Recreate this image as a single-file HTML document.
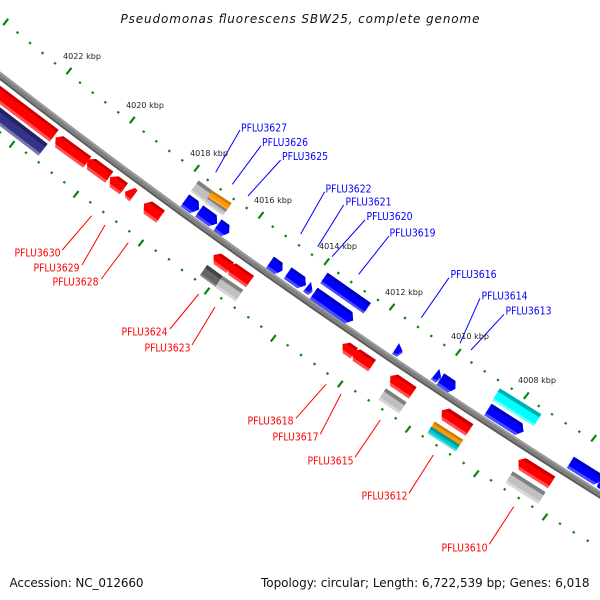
<!DOCTYPE html>
<html><head><meta charset="utf-8"><style>
html,body{margin:0;padding:0;background:#fff}
svg{display:block}
text{font-family:"DejaVu Sans","Liberation Sans",sans-serif}
.k{font-size:8px;fill:#222}
.pr{font-size:11px;fill:#f00}
.pb{font-size:11px;fill:#00f}
.l,.m,.d{stroke-width:.8}
.r .l{fill:#ff5050;stroke:#ff5050}.r .m{fill:#f00;stroke:#f00}.r .d{fill:#cc0000;stroke:#cc0000}
.b .l{fill:#4a4aff;stroke:#4a4aff}.b .m{fill:#00f;stroke:#00f}.b .d{fill:#0000c0;stroke:#0000c0}
.g .l{fill:#d8d8d8;stroke:#d8d8d8}.g .m{fill:#c0c0c0;stroke:#c0c0c0}.g .d{fill:#808080;stroke:#808080}
.s .l{fill:#8a8a8a;stroke:#8a8a8a}.s .m{fill:#666;stroke:#666}.s .d{fill:#444;stroke:#444}
.n .l{fill:#7777aa;stroke:#7777aa}.n .m{fill:#333388;stroke:#333388}.n .d{fill:#222266;stroke:#222266}
.o .l{fill:#ffb040;stroke:#ffb040}.o .m{fill:#ff9900;stroke:#ff9900}.o .d{fill:#c87a10;stroke:#c87a10}
.t .l{fill:#55dddd;stroke:#55dddd}.t .m{fill:#00c8c8;stroke:#00c8c8}.t .d{fill:#009a9a;stroke:#009a9a}
.c .l{fill:#66ffff;stroke:#66ffff}.c .m{fill:#00ffff;stroke:#00ffff}.c .d{fill:#00b0b0;stroke:#00b0b0}
</style></head><body>
<svg xmlns="http://www.w3.org/2000/svg" width="600" height="600" viewBox="0 0 600 600">
<rect width="600" height="600" fill="#fff"/>

<!-- tick marks -->
<path fill="none" stroke="#0a860a" stroke-width="2.2" d="M3.2 25.2l5-6.4M66.5 74.2l5-6.4M129.8 123.2l5-6.4M194.2 171.5l5-6.4M258.5 218.5l5-6.4M324.2 264.9l5-6.4M389.5 310.2l5-6.4M455.8 355.5l5-6.4M523.8 398.9l5-6.4M591.2 441.5l5-6.4M9.5 147.5l5-6.4M73.5 197.5l5-6.4M138.5 246.2l5-6.4M204.5 294.2l5-6.4M270.8 341.5l5-6.4M337.8 387.2l5-6.4M405.5 432.5l5-6.4M473.8 476.9l5-6.4M542.5 520.2l5-6.4"/>
<!-- dots -->
<path fill="none" stroke="#0a860a" stroke-width="2.3" d="M16.8 33.4l1.4-1.8M29.3 43.9l1.4-1.8M41.8 53.9l1.4-1.8M54.3 64.2l1.4-1.8M79.3 83.6l1.4-1.8M92 93.6l1.4-1.8M104.6 103.2l1.4-1.8M117.6 113.2l1.4-1.8M143 132.6l1.4-1.8M155.6 142.2l1.4-1.8M168.6 151.9l1.4-1.8M181.6 161.2l1.4-1.8M207 180.9l1.4-1.8M220 190.2l1.4-1.8M233 199.9l1.4-1.8M246 208.9l1.4-1.8M272 227.6l1.4-1.8M285 236.9l1.4-1.8M298.3 246.2l1.4-1.8M311.3 255.6l1.4-1.8M337.6 273.9l1.4-1.8M350.6 282.9l1.4-1.8M364 292.2l1.4-1.8M377.3 300.9l1.4-1.8M404.3 318.9l1.4-1.8M417.3 327.9l1.4-1.8M430.6 336.9l1.4-1.8M443.6 345.9l1.4-1.8M470.8 363.4l1.4-1.8M484 372.2l1.4-1.8M497.3 380.9l1.4-1.8M511 389.6l1.4-1.8M538 406.9l1.4-1.8M551.3 415.2l1.4-1.8M565 424.2l1.4-1.8M578.6 432.6l1.4-1.8M-.7 133.2l1.4-1.8M25.3 153.6l1.4-1.8M38 163.2l1.4-1.8M51 173.6l1.4-1.8M63.6 183.2l1.4-1.8M89.6 203.2l1.4-1.8M102.6 212.9l1.4-1.8M115.6 222.6l1.4-1.8M128.6 232.2l1.4-1.8M155 251.6l1.4-1.8M168.3 260.2l1.4-1.8M181.3 270.9l1.4-1.8M194.3 280.2l1.4-1.8M220.6 299.2l1.4-1.8M234 308.6l1.4-1.8M247.6 318.2l1.4-1.8M260.6 327.6l1.4-1.8M287 346.2l1.4-1.8M300.3 355.9l1.4-1.8M313.8 364.9l1.4-1.8M326.8 374.4l1.4-1.8M354.6 392.2l1.4-1.8M368 401.2l1.4-1.8M381.6 410.2l1.4-1.8M395 419.2l1.4-1.8M422 437.2l1.4-1.8M435.8 446.2l1.4-1.8M449.3 455.2l1.4-1.8M463 463.9l1.4-1.8M490.3 481.2l1.4-1.8M504 490.2l1.4-1.8M518 498.9l1.4-1.8M531.6 507.6l1.4-1.8M559.3 524.6l1.4-1.8M573 533.2l1.4-1.8M587 541.6l1.4-1.8"/>

<!-- backbone -->
<path d="M-10 68Q285 298 610 501" fill="none" stroke="#5a5a5a" stroke-width="7"/>
<path d="M-10 67Q285 297 610 500" fill="none" stroke="#808080" stroke-width="5"/>
<path d="M-10 65Q285 295 610 498" fill="none" stroke="#a0a0a0" stroke-width="1.6"/>

<!-- genes: red left pointing -->
<g class="r" transform="translate(58 130) rotate(37)"><rect class="l" x="-110" width="110" height="14"/><rect class="m" x="-110" width="110" height="11"/><rect class="d" x="-110" width="110" height="2"/></g>
<g class="n" transform="translate(47 144) rotate(37.5)"><rect class="l" x="-90" width="90" height="14"/><rect class="m" x="-90" width="90" height="11"/><rect class="d" x="-90" width="90" height="3"/></g>
<g class="r" transform="translate(90.7 156.7) rotate(36)"><polygon class="l" points="0,0 0,13 -34,13 -39,5 -34,0"/><polygon class="m" points="0,0 0,10 -36,10 -39,5 -34,0"/><polygon class="d" points="0,0 0,2 -36,2 -34,0"/></g>
<g class="r" transform="translate(112.7 171.7) rotate(36)"><polygon class="l" points="0,0 0,13 -22,13 -27,5 -21,0"/><polygon class="m" points="0,0 0,10 -24,10 -27,5 -21,0"/><polygon class="d" points="0,0 0,2 -23,2 -21,0"/></g>
<g class="r" transform="translate(127.3 183.3) rotate(36)"><polygon class="l" points="0,0 0,13 -12,13 -17,5 -11,0"/><polygon class="m" points="0,0 0,10 -14,10 -17,5 -11,0"/><polygon class="d" points="0,0 0,2 -13,2 -11,0"/></g>
<polygon fill="#ff5050" points="135,188 137.5,190.5 129.5,201.5 125.3,197.5 125.3,191.7"/>
<polygon fill="#f00" points="135,188 137.5,190.5 131,199 125.3,195 125.3,191.7"/>
<g class="r" transform="translate(164.3 210.7) rotate(35.5)"><polygon class="l" points="0,0 0,14 -15,14 -20,6 -15,0"/><polygon class="m" points="0,0 0,11 -17,11 -20,6 -15,0"/><polygon class="d" points="0,0 0,2 -16,2 -15,0"/></g>

<g class="r" transform="translate(233.3 262.7) rotate(35)"><polygon class="l" points="0,0 0,12 -15,12 -20,5 -15,0"/><polygon class="m" points="0,0 0,9 -17,9 -20,5 -15,0"/><polygon class="d" points="0,0 0,2 -16,2 -15,0"/></g>
<g class="r" transform="translate(253.3 276) rotate(35)"><polygon class="l" points="0,0 0,13 -21,13 -26,5 -21,0"/><polygon class="m" points="0,0 0,10 -23,10 -26,5 -21,0"/><polygon class="d" points="0,0 0,2 -22,2 -21,0"/></g>
<g class="r" transform="translate(357.3 348.3) rotate(35)"><polygon class="l" points="0,0 0,12 -9,12 -14,5 -9,0"/><polygon class="m" points="0,0 0,9 -11,9 -14,5 -9,0"/><polygon class="d" points="0,0 0,2 -10,2 -9,0"/></g>
<g class="r" transform="translate(375.3 360) rotate(34)"><polygon class="l" points="0,0 0,13 -18,13 -23,5 -18,0"/><polygon class="m" points="0,0 0,10 -20,10 -23,5 -18,0"/><polygon class="d" points="0,0 0,2 -19,2 -18,0"/></g>
<g class="r" transform="translate(416 387.3) rotate(34)"><polygon class="l" points="0,0 0,13 -22,13 -27,5 -22,0"/><polygon class="m" points="0,0 0,10 -24,10 -27,5 -22,0"/><polygon class="d" points="0,0 0,2 -23,2 -22,0"/></g>
<g class="r" transform="translate(472.7 424.3) rotate(33)"><polygon class="l" points="0,0 0,13 -28,13 -33,5 -28,0"/><polygon class="m" points="0,0 0,10 -30,10 -33,5 -28,0"/><polygon class="d" points="0,0 0,2.5 -30,2.5 -28,0"/></g>
<g class="r" transform="translate(554.7 476.7) rotate(32)"><polygon class="l" points="0,0 0,13 -34,13 -39,5 -34,0"/><polygon class="m" points="0,0 0,10 -36,10 -39,5 -34,0"/><polygon class="d" points="0,0 0,2.5 -36,2.5 -34,0"/></g>

<!-- blue right pointing -->
<g class="b" transform="translate(189.3 195) rotate(36)"><polygon class="l" points="0,0 0,14 11,14 16,6 11,0"/><polygon class="m" points="0,0 0,11 13,11 16,6 11,0"/><polygon class="d" points="0,0 0,2 12,2 11,0"/></g>
<g class="b" transform="translate(203.3 206) rotate(36)"><polygon class="l" points="0,0 0,13 16,13 21,6 16,0"/><polygon class="m" points="0,0 0,10 18,10 21,6 16,0"/><polygon class="d" points="0,0 0,2 17,2 16,0"/></g>
<g class="b" transform="translate(221.7 220) rotate(36)"><polygon class="l" points="0,0 0,13 9,13 13,6 9,0"/><polygon class="m" points="0,0 0,10 11,10 13,6 9,0"/><polygon class="d" points="0,0 0,2 10,2 9,0"/></g>
<g class="b" transform="translate(274 257.3) rotate(35)"><polygon class="l" points="0,0 0,13 10,13 14,6 10,0"/><polygon class="m" points="0,0 0,10 12,10 14,6 10,0"/><polygon class="d" points="0,0 0,2 11,2 10,0"/></g>
<g class="b" transform="translate(291.7 268) rotate(35)"><polygon class="l" points="0,0 0,13 16,13 21,6 16,0"/><polygon class="m" points="0,0 0,10 18,10 21,6 16,0"/><polygon class="d" points="0,0 0,2 17,2 16,0"/></g>
<polygon fill="#4a4aff" points="311,282 312.5,292 308,295 303,291.5"/>
<polygon fill="#00f" points="311,282 312.3,289.5 309,292 304.5,290"/>
<g class="b" transform="translate(327.7 273.3) rotate(35)"><rect class="l" width="52" height="12"/><rect class="m" width="52" height="9.5"/><rect class="d" width="52" height="2.5"/></g>
<g class="b" transform="translate(317.7 288.3) rotate(35)"><polygon class="l" points="0,0 0,13 42,13 47,6 42,0"/><polygon class="m" points="0,0 0,10 44,10 47,6 42,0"/><polygon class="d" points="0,0 0,2.5 43,2.5 42,0"/></g>
<polygon fill="#4a4aff" points="399,343.3 402.7,352.7 396.7,356.7 392,354"/>
<polygon fill="#00f" points="399,343.3 402.5,351 397.5,354 393.5,352.5"/>
<polygon fill="#4a4aff" points="439.3,369 441,378.3 435.7,382.7 430.7,379.3"/>
<polygon fill="#00f" points="439.3,369 441,376.5 436.5,380 432.5,378"/>
<g class="b" transform="translate(444.3 374) rotate(34)"><polygon class="l" points="0,0 0,13 13,13 17,6 13,0"/><polygon class="m" points="0,0 0,10 15,10 17,6 13,0"/><polygon class="d" points="0,0 0,2 14,2 13,0"/></g>
<g class="b" transform="translate(491.7 404.3) rotate(32.5)"><polygon class="l" points="0,0 0,13 36,13 41,6 36,0"/><polygon class="m" points="0,0 0,10 38,10 41,6 36,0"/><polygon class="d" points="0,0 0,2.5 38,2.5 36,0"/></g>
<g class="b" transform="translate(574 457.3) rotate(32)"><polygon class="l" points="0,0 0,12.5 31,12.5 35,6 31,0"/><polygon class="m" points="0,0 0,9.5 33,9.5 35,6 31,0"/><polygon class="d" points="0,0 0,2.5 33,2.5 31,0"/></g>
<polygon fill="#00f" points="600,481.5 597.5,484.5 597,487 600,489"/>

<!-- grey / others -->
<g class="g" transform="translate(213.3 191.7) rotate(36)"><rect class="l" x="-18" width="18" height="13"/><rect class="m" x="-18" width="18" height="11"/><rect class="d" x="-18" width="18" height="3"/></g>
<g class="g" transform="translate(227.3 208.7) rotate(35)"><rect class="l" x="-22" width="22" height="8"/><rect class="m" x="-22" width="22" height="6"/><rect class="d" x="-22" width="22" height="3"/></g>
<g class="o" transform="translate(231 203.3) rotate(33)"><rect class="l" x="-22" width="22" height="7"/><rect class="m" x="-22" width="22" height="5.5"/><rect class="d" x="-22" width="22" height="1.5"/></g>
<g class="s" transform="translate(222.7 276.7) rotate(36)"><rect class="l" x="-19" width="19" height="12"/><rect class="m" x="-19" width="19" height="10"/><rect class="d" x="-19" width="19" height="3"/></g>
<g class="g" transform="translate(242.7 290) rotate(34)"><rect class="l" x="-24" width="24" height="13"/><rect class="m" x="-24" width="24" height="10"/><rect class="d" x="-24" width="24" height="3"/></g>
<g class="g" transform="translate(406 402.3) rotate(34)"><rect class="l" x="-24" width="24" height="13"/><rect class="m" x="-24" width="24" height="10"/><rect class="d" x="-24" width="24" height="3"/></g>
<g class="o" transform="translate(462.7 440) rotate(32.6)"><rect class="l" x="-33" width="33" height="6.5"/><rect class="m" x="-33" width="33" height="5.5"/><rect class="d" x="-33" width="33" height="1.5"/></g>
<g class="t" transform="translate(459.3 445) rotate(32.6)"><rect class="l" x="-33" width="33" height="7"/><rect class="m" x="-33" width="33" height="5"/><rect class="d" x="-33" width="33" height="2"/></g>
<g class="c" transform="translate(540.7 414.3) rotate(32)"><rect class="l" x="-48" width="48" height="13.5"/><rect class="m" x="-48" width="48" height="11"/><rect class="d" x="-48" width="48" height="3"/></g>
<g class="g" transform="translate(545 492.3) rotate(32.5)"><rect class="l" x="-38" width="38" height="13"/><rect class="m" x="-38" width="38" height="10"/><rect class="d" x="-38" width="38" height="3"/></g>

<!-- label leader lines -->
<path fill="none" stroke="#00f" stroke-width="1" d="M240 130L215.7 172.3M261 145.7L232.3 184.3M280.7 160L248 196M324.7 191.7L300.7 234M343.7 205L317.7 246.7M365 220L332 256.7M389 236L358.7 274.3M449 277.7L421.3 317.7M480 298.3L460 343.3M504 314.3L471 350"/>
<path fill="none" stroke="#f00" stroke-width="1" d="M62.3 250L91.7 215.7M82 265L105 225M101.3 279L128.3 242.7M170 329L198.7 294M192 345L215 307M296 418.3L326 384.3M320.3 434.3L341 394M355 457.3L380.3 420M409 493.3L433.3 455M489.3 544.3L513.7 506.7"/>

<!-- tick labels -->
<text class="k" x="63" y="59" textLength="38" lengthAdjust="spacingAndGlyphs">4022 kbp</text>
<text class="k" x="126" y="108" textLength="38" lengthAdjust="spacingAndGlyphs">4020 kbp</text>
<text class="k" x="190" y="156" textLength="38" lengthAdjust="spacingAndGlyphs">4018 kbp</text>
<text class="k" x="254" y="203" textLength="38" lengthAdjust="spacingAndGlyphs">4016 kbp</text>
<text class="k" x="319" y="249" textLength="38" lengthAdjust="spacingAndGlyphs">4014 kbp</text>
<text class="k" x="385" y="295" textLength="38" lengthAdjust="spacingAndGlyphs">4012 kbp</text>
<text class="k" x="451" y="339" textLength="38" lengthAdjust="spacingAndGlyphs">4010 kbp</text>
<text class="k" x="518" y="383" textLength="38" lengthAdjust="spacingAndGlyphs">4008 kbp</text>

<!-- gene labels -->
<text class="pb" x="241" y="131.5" textLength="46" lengthAdjust="spacingAndGlyphs">PFLU3627</text>
<text class="pb" x="262" y="146" textLength="46" lengthAdjust="spacingAndGlyphs">PFLU3626</text>
<text class="pb" x="282" y="160" textLength="46" lengthAdjust="spacingAndGlyphs">PFLU3625</text>
<text class="pb" x="325.5" y="192.5" textLength="46" lengthAdjust="spacingAndGlyphs">PFLU3622</text>
<text class="pb" x="345.5" y="205.5" textLength="46" lengthAdjust="spacingAndGlyphs">PFLU3621</text>
<text class="pb" x="366.5" y="220" textLength="46" lengthAdjust="spacingAndGlyphs">PFLU3620</text>
<text class="pb" x="389.5" y="236.5" textLength="46" lengthAdjust="spacingAndGlyphs">PFLU3619</text>
<text class="pb" x="450.5" y="278" textLength="46" lengthAdjust="spacingAndGlyphs">PFLU3616</text>
<text class="pb" x="481.5" y="299.5" textLength="46" lengthAdjust="spacingAndGlyphs">PFLU3614</text>
<text class="pb" x="505.5" y="314.5" textLength="46" lengthAdjust="spacingAndGlyphs">PFLU3613</text>

<text class="pr" x="14.5" y="256.5" textLength="46" lengthAdjust="spacingAndGlyphs">PFLU3630</text>
<text class="pr" x="33.5" y="271.5" textLength="46" lengthAdjust="spacingAndGlyphs">PFLU3629</text>
<text class="pr" x="52.5" y="285.5" textLength="46" lengthAdjust="spacingAndGlyphs">PFLU3628</text>
<text class="pr" x="121.5" y="335.5" textLength="46" lengthAdjust="spacingAndGlyphs">PFLU3624</text>
<text class="pr" x="144.5" y="351.5" textLength="46" lengthAdjust="spacingAndGlyphs">PFLU3623</text>
<text class="pr" x="247.5" y="424.5" textLength="46" lengthAdjust="spacingAndGlyphs">PFLU3618</text>
<text class="pr" x="272.5" y="440.5" textLength="46" lengthAdjust="spacingAndGlyphs">PFLU3617</text>
<text class="pr" x="307.5" y="464.5" textLength="46" lengthAdjust="spacingAndGlyphs">PFLU3615</text>
<text class="pr" x="361.5" y="499.5" textLength="46" lengthAdjust="spacingAndGlyphs">PFLU3612</text>
<text class="pr" x="441.5" y="551.5" textLength="46" lengthAdjust="spacingAndGlyphs">PFLU3610</text>

<!-- title & footer -->
<text x="120.5" y="23" font-size="12" font-style="italic" fill="#111" textLength="359">Pseudomonas fluorescens SBW25, complete genome</text>
<text x="9.5" y="587" font-size="12" fill="#111" textLength="134">Accession: NC_012660</text>
<text x="261" y="587" font-size="12" fill="#111" textLength="328.5">Topology: circular; Length: 6,722,539 bp; Genes: 6,018</text>
</svg>
</body></html>
